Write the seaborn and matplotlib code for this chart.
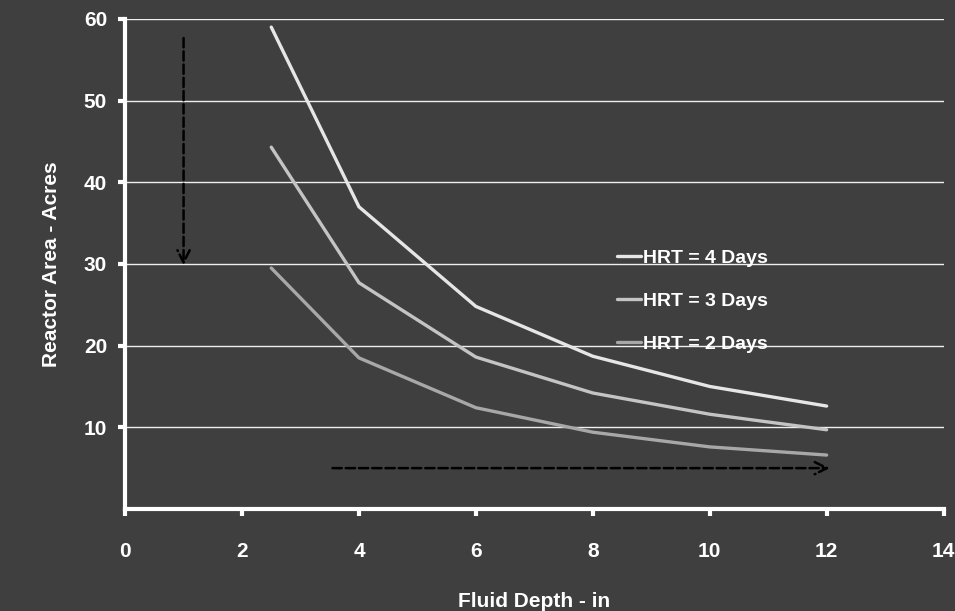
import numpy as np
import pandas as pd
import matplotlib
matplotlib.use("Agg")
import matplotlib.pyplot as plt
import seaborn as sns

# values
depth = [2.5, 4, 6, 8, 10, 12]
hrt4 = [59.0, 37.0, 24.8, 18.7, 15.0, 12.6]
hrt3 = [44.3, 27.7, 18.6, 14.2, 11.6, 9.7]
hrt2 = [29.5, 18.5, 12.4, 9.4, 7.6, 6.6]
labels = ["HRT = 4 Days", "HRT = 3 Days", "HRT = 2 Days"]
xticks = [0, 2, 4, 6, 8, 10, 12, 14]
yticks = [10, 20, 30, 40, 50, 60]

df = pd.DataFrame({
    "depth": depth * 3,
    "area": hrt4 + hrt3 + hrt2,
    "series": [labels[0]] * 6 + [labels[1]] * 6 + [labels[2]] * 6,
})

bg = "#3f3f3f"
sns.set_style("dark")
plt.rcParams["font.family"] = ["Liberation Sans", "DejaVu Sans"]
plt.rcParams["font.weight"] = "bold"

fig = plt.figure(figsize=(9.55, 6.11), dpi=100, facecolor=bg)
ax = fig.add_axes([0.131, 0.167, 0.857, 0.802])
ax.set_facecolor(bg)

palette = {labels[0]: "#e6e6e6", labels[1]: "#c4c4c4", labels[2]: "#a8a8a8"}
sns.lineplot(data=df, x="depth", y="area", hue="series", palette=palette,
             hue_order=labels, linewidth=2.4, ax=ax)

ax.set_xlim(0, 14)
ax.set_ylim(0, 60)
ax.set_xticks(xticks)
ax.set_yticks(yticks)
ax.grid(axis="y", color="#f0f0f0", linewidth=1.0)
ax.grid(axis="x", visible=False)

for side in ["top", "right"]:
    ax.spines[side].set_visible(False)
for side in ["left", "bottom"]:
    ax.spines[side].set_visible(True)
    ax.spines[side].set_color("white")
    ax.spines[side].set_linewidth(3)

ax.tick_params(bottom=True, left=True, colors="white", labelsize=15,
               length=5, width=3, direction="out")
ax.tick_params(axis="x", pad=19)
ax.tick_params(axis="y", pad=8)
for t in ax.get_xticklabels() + ax.get_yticklabels():
    t.set_fontweight("bold")

ax.set_xlabel("Fluid Depth - in", color="white", fontsize=15, fontweight="bold", labelpad=22)
ax.set_ylabel("Reactor Area - Acres", color="white", fontsize=15, fontweight="bold", labelpad=16)

# dashed guide arrows
ax.annotate("", xy=(1, 29.5), xytext=(1, 58),
            arrowprops=dict(arrowstyle="->", color="black", lw=1.8, linestyle="--",
                            mutation_scale=22))
ax.annotate("", xy=(12.1, 5), xytext=(3.5, 5),
            arrowprops=dict(arrowstyle="->", color="black", lw=1.8, linestyle="--",
                            mutation_scale=22))

leg = ax.legend(loc="upper left", bbox_to_anchor=(0.58, 0.565), frameon=False,
                handlelength=1.2, handletextpad=0.1, labelspacing=1.3,
                prop={"size": 14, "weight": "bold"})
for txt in leg.get_texts():
    txt.set_color("white")

fig.savefig("out.png", dpi=100, facecolor=bg)
